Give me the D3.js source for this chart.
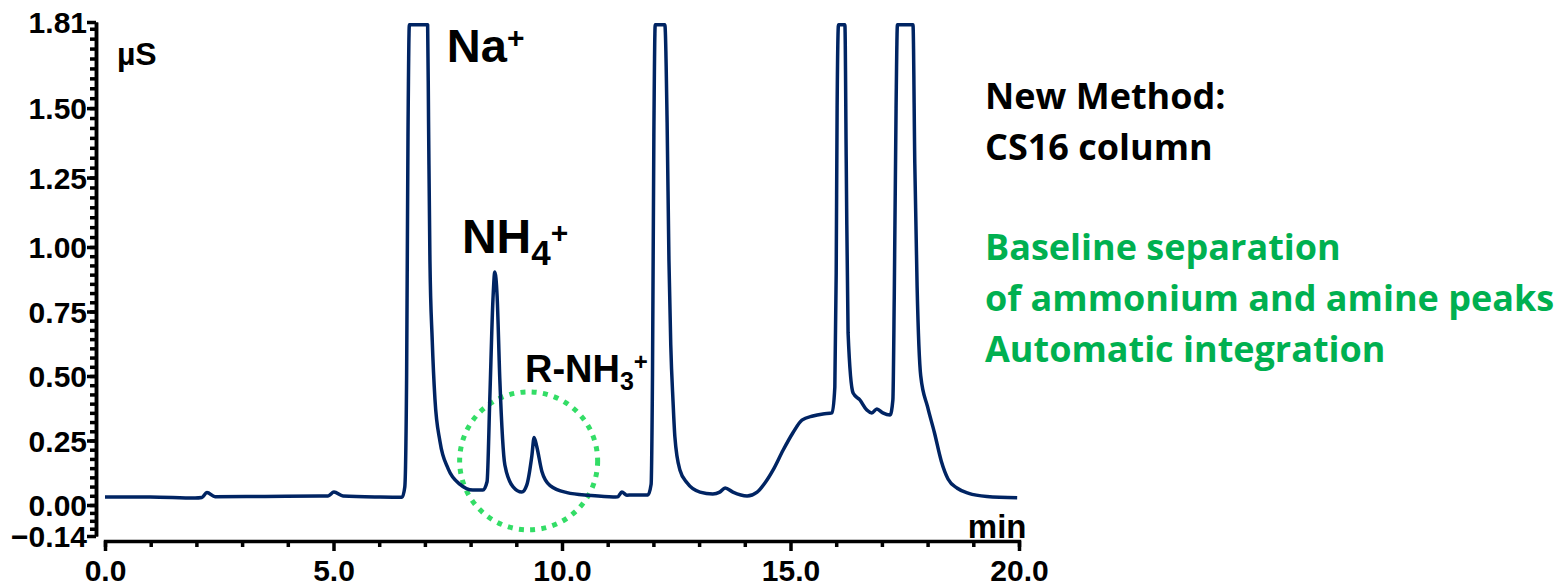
<!DOCTYPE html>
<html>
<head>
<meta charset="utf-8">
<script src="https://cdn.jsdelivr.net/npm/d3@7"></script>
<style>
  body { margin: 0; background: #fff; }
  svg { display: block; }
  .axis path, .axis line { stroke: #000; stroke-width: 3.5; }
  .axis text { font-family: "Liberation Sans", Arial, sans-serif; font-weight: bold; font-size: 30px; fill: #000; }
  .lbl { font-family: "Liberation Sans", Arial, sans-serif; font-weight: bold; fill: #000; }
  .note { font-family: "Open Sans", sans-serif; font-weight: bold; font-size: 36px; }
</style>
</head>
<body>
<div id="chart"></div>
<script>
// retention time (min) and conductivity (uS)
var times = [0, 0.99, 1.97, 2.12, 2.23, 2.41, 3.5, 4.78, 4.88, 5.01, 5.21, 6.02, 6.50, 6.56, 6.60, 6.63, 6.66,
  7.06, 7.08, 7.11, 7.16, 7.22, 7.33, 7.51, 7.77, 8.05, 8.27, 8.36, 8.42, 8.49, 8.53, 8.58, 8.64, 8.75, 8.93,
  9.12, 9.23, 9.34, 9.39, 9.45, 9.56, 9.74, 10.11, 10.61, 11.12, 11.22, 11.31, 11.42, 11.53, 11.88, 11.95,
  11.98, 12.01, 12.04, 12.25, 12.30, 12.34, 12.38, 12.43, 12.47, 12.58, 12.74, 13.02, 13.30, 13.45, 13.57,
  13.74, 14.05, 14.27, 14.44, 14.62, 14.84, 15.05, 15.25, 15.49, 15.71, 15.91, 15.97, 16.00, 16.02, 16.05,
  16.19, 16.22, 16.26, 16.37, 16.52, 16.67, 16.78, 16.89, 17.02, 17.18, 17.24, 17.27, 17.31, 17.34, 17.68,
  17.72, 17.77, 17.85, 18.00, 18.15, 18.30, 18.45, 18.65, 18.90, 19.30, 19.96];
var signal = [0.031, 0.031, 0.027, 0.029, 0.048, 0.032, 0.033, 0.035, 0.035, 0.050, 0.035, 0.031, 0.030, 0.07, 0.5, 1.4, 1.80,
  1.80, 1.45, 0.95, 0.64, 0.41, 0.246, 0.14, 0.08, 0.058, 0.058, 0.09, 0.41, 0.80, 0.903, 0.81, 0.484, 0.155, 0.070,
  0.050, 0.078, 0.19, 0.262, 0.225, 0.13, 0.075, 0.048, 0.037, 0.031, 0.032, 0.050, 0.038, 0.039, 0.039, 0.08,
  0.5, 1.4, 1.80, 1.80, 1.45, 0.95, 0.62, 0.40, 0.264, 0.136, 0.085, 0.050, 0.043, 0.05, 0.066,
  0.050, 0.035, 0.050, 0.085, 0.136, 0.213, 0.279, 0.329, 0.345, 0.353, 0.357, 0.457, 0.9, 1.5, 1.80,
  1.80, 1.3, 0.667, 0.434, 0.407, 0.368, 0.357, 0.372, 0.357, 0.349, 0.407, 0.8, 1.5, 1.80, 1.80,
  1.30, 0.85, 0.50, 0.38, 0.28, 0.17, 0.10, 0.065, 0.045, 0.033, 0.028];

var xTicks = [0, 5, 10, 15, 20];
var yTicks = [-0.14, 0, 0.25, 0.5, 0.75, 1.0, 1.25, 1.5, 1.81];
var noteBlack = ["New Method:", "CS16 column"];
var noteGreen = ["Baseline separation", "of ammonium and amine peaks", "Automatic integration"];

var svg = d3.select("#chart").append("svg")
  .attr("width", 1558)
  .attr("height", 585);

var x = d3.scaleLinear().domain([0, 20]).range([105, 1019]);
// the printed axis is not quite even, so the scale bends at 0 and 1.0
var y = d3.scaleLinear().domain([-0.14, 0, 1.0, 1.81]).range([536, 505, 247, 22]);

// x axis
var xAxis = svg.append("g")
  .attr("class", "axis")
  .attr("transform", "translate(0,541)")
  .call(d3.axisBottom(x)
    .tickValues(d3.range(0, 21, 1))
    .tickSizeOuter(0)
    .tickSize(6)
    .tickFormat(d => xTicks.includes(d) ? d3.format(".1f")(d) : ""));
xAxis.selectAll(".tick line").attr("y2", d => xTicks.includes(d) ? 10 : 6);
xAxis.selectAll(".tick text").attr("y", 40).attr("dy", 0);

// y axis: minor ticks then labelled ticks
var minor = d3.range(-3, 51).map(k => k * 0.25 / 7).filter(v => v > -0.14 && v < 1.81);
svg.append("g")
  .attr("class", "axis")
  .attr("transform", "translate(96,0)")
  .call(d3.axisLeft(y).tickValues(minor).tickSize(6).tickSizeOuter(0).tickFormat(""));
var yAxis = svg.append("g")
  .attr("class", "axis")
  .attr("transform", "translate(96,0)")
  .call(d3.axisLeft(y).tickValues(yTicks).tickSize(9).tickSizeOuter(0).tickPadding(0).tickFormat(d3.format(".2f")));
yAxis.selectAll(".tick text").attr("dy", "0.36em");

// dotted circle round the amine peak
svg.append("circle")
  .attr("cx", x(9.27))
  .attr("cy", y(0.171))
  .attr("r", 69)
  .attr("fill", "none")
  .attr("stroke", "#33dd66")
  .attr("stroke-width", 5)
  .attr("stroke-dasharray", "5 6.3");

// chromatogram trace
var line = d3.line()
  .x((d, i) => x(times[i]))
  .y(d => y(d))
  .curve(d3.curveMonotoneX);

svg.append("path")
  .datum(signal)
  .attr("d", line)
  .attr("fill", "none")
  .attr("stroke", "#002463")
  .attr("stroke-width", 3.5)
  .attr("stroke-linejoin", "round");

// axis units
svg.append("text").attr("class", "lbl")
  .attr("x", x(0.26)).attr("y", y(1.655))
  .attr("font-size", 32).text("µS");
svg.append("text").attr("class", "lbl")
  .attr("x", x(18.88)).attr("y", y(-0.149))
  .attr("font-size", 33).text("min");

// peak names
function peakLabel(t, v, size, main, sub, subSize, sup, supSize, dSub, dSup) {
  var txt = svg.append("text").attr("class", "lbl")
    .attr("x", x(t)).attr("y", y(v)).attr("font-size", size);
  txt.append("tspan").text(main);
  if (sub) txt.append("tspan").attr("font-size", subSize).attr("dy", dSub).text(sub);
  txt.append("tspan").attr("font-size", supSize).attr("dy", dSup).text(sup);
}
peakLabel(7.48, 1.666, 47, "Na", null, 0, "+", 30, 0, -14);
peakLabel(7.81, 0.977, 48, "NH", "4", 35, "+", 30, 12, -22);
peakLabel(9.19, 0.477, 38, "R-NH", "3", 25, "+", 24, 8, -20);

// notes on the right
var notes = svg.append("g").attr("transform", "translate(985,0)");
notes.selectAll(".nb")
  .data(noteBlack)
  .enter().append("text")
  .attr("class", "note")
  .attr("y", (d, i) => 109 + i * 51)
  .attr("fill", "#000")
  .text(d => d);
notes.selectAll(".ng")
  .data(noteGreen)
  .enter().append("text")
  .attr("class", "note")
  .attr("y", (d, i) => 260 + i * 51)
  .attr("fill", "#00b050")
  .text(d => d);
</script>
</body>
</html>
